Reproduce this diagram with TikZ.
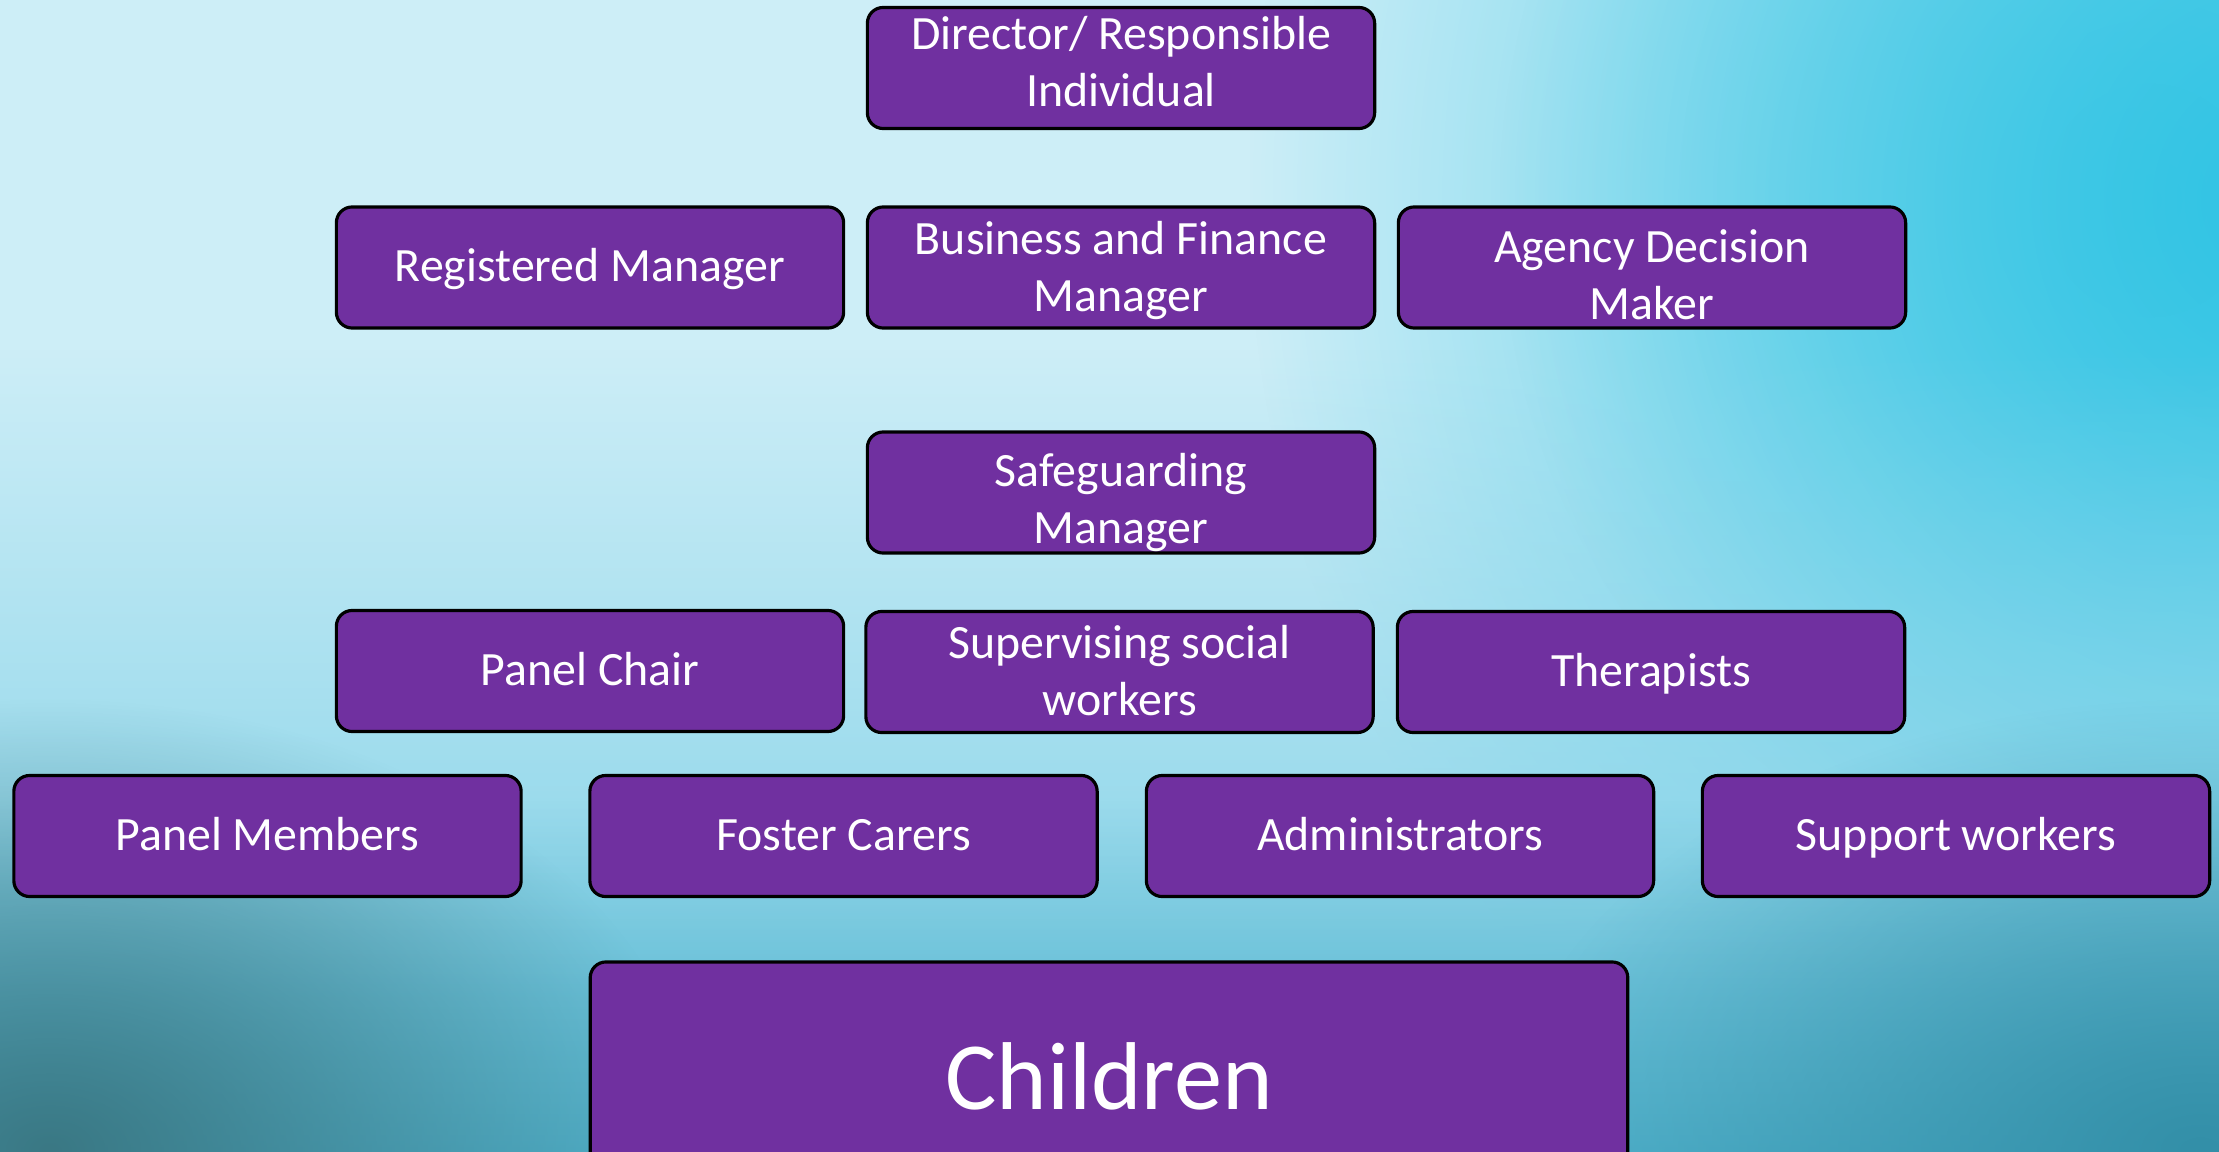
\documentclass[tikz,border=0pt]{standalone}
\usepackage{fontspec}
\setmainfont{Carlito}
\usetikzlibrary{fadings}

\definecolor{boxpurple}{HTML}{7030A0}
\definecolor{bglight}{HTML}{CDEEF7}
\definecolor{bgcyan}{HTML}{30C4E4}
\definecolor{bgmid}{HTML}{86D3E8}
\definecolor{bgteal}{HTML}{3BA3BF}
\definecolor{bgdark}{HTML}{3A7884}
\definecolor{bgdeep}{HTML}{338FA8}

\tikzfading[name=softspot, inner color=transparent!0, outer color=transparent!100]
\tikzfading[name=riseup, top color=transparent!100, bottom color=transparent!0]

\tikzset{
  rolebox/.style={draw=black, line width=0.9pt, fill=boxpurple, rounded corners=4.5pt,
    text=white, align=center, minimum width=5.07cm, minimum height=1.21cm,
    inner sep=0pt, font=\fontsize{13.6pt}{16.2pt}\selectfont},
  oneline/.style={rolebox, text height=10.5pt, text depth=2.5pt},
  % the box baseline is the last line; the height sets where the pair sits
  twoline/.style={rolebox, text height=#1, text depth=2pt},
  twoline/.default=27pt,
  bigbox/.style={rolebox, minimum width=10.37cm, minimum height=2.28cm,
    font=\fontsize{27.4pt}{32pt}\selectfont}
}

\begin{document}
\begin{tikzpicture}[x=0.01cm, y=-0.01cm]
  \useasboundingbox (0,0) rectangle (2219,1152);
  \clip (0,0) rectangle (2219,1152);

  % background wash
  \fill[bglight] (0,0) rectangle (2219,1152);
  \fill[bgcyan, path fading=softspot] (1250,-900) rectangle (3300,1300);
  \fill[bgcyan, path fading=softspot, opacity=0.6] (1500,-500) rectangle (2800,900);
  \fill[bgmid, path fading=riseup] (-200,350) rectangle (2400,1000);
  \fill[bgmid] (-200,999) rectangle (2400,1300);
  \fill[bgteal, path fading=riseup] (-200,800) rectangle (2400,1300);
  \fill[bgdark, path fading=softspot] (-600,700) rectangle (700,1600);
  \fill[bgdeep, path fading=softspot] (1500,700) rectangle (2900,1600);

  % roles
  \node[twoline=23.8pt] (dir)  at (1121,68)  {Director/ Responsible\\Individual};
  \node[oneline] (reg)  at (590,267.5)  {Registered Manager};
  \node[twoline] (bus)  at (1121,267.5) {Business and Finance\\Manager};
  \node[twoline=31.4pt] (adm)  at (1652,267.5) {Agency Decision\\Maker};
  \node[twoline=31pt] (safe) at (1121,492.5) {Safeguarding\\Manager};
  \node[oneline] (chair) at (590,671)   {Panel Chair};
  \node[twoline] (sup)   at (1119.5,672) {Supervising social\\workers};
  \node[oneline] (ther)  at (1651,672)  {Therapists};
  \node[oneline] (pm)    at (267.5,836) {Panel Members};
  \node[oneline] (fc)    at (843.5,836) {Foster Carers};
  \node[oneline] (admin) at (1400,836)  {Administrators};
  \node[oneline] (sw)    at (1956,836)  {Support workers};
  \node[bigbox]  (kids)  at (1109,1076) {Children};
\end{tikzpicture}
\end{document}
